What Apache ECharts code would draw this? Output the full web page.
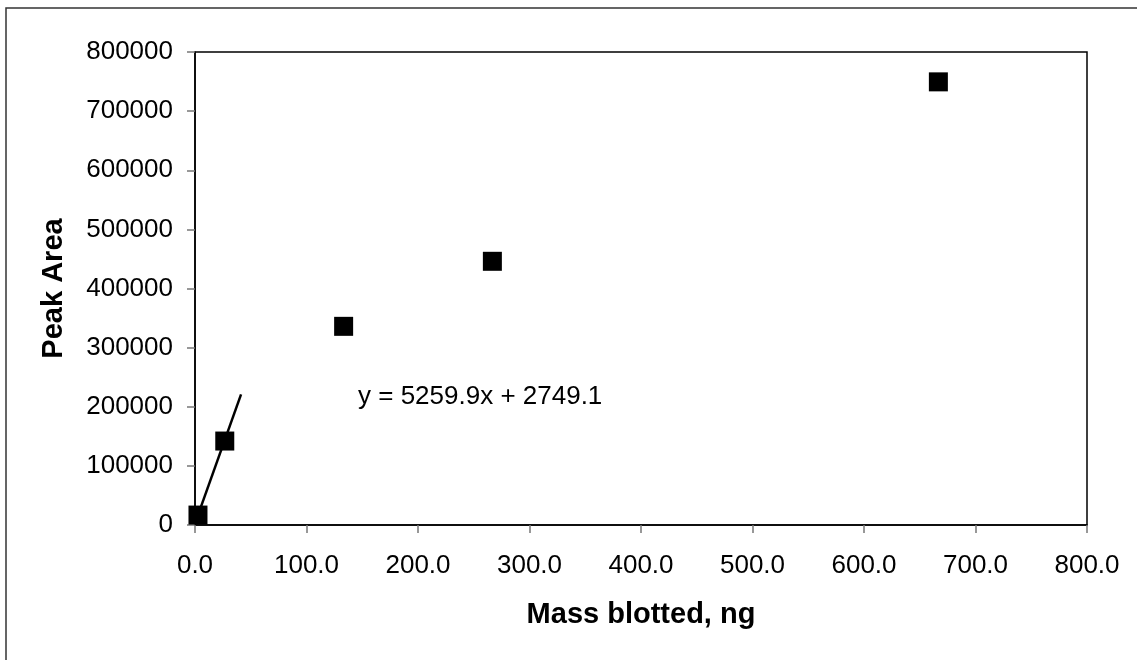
<!DOCTYPE html>
<html>
<head>
<meta charset="utf-8">
<script src="https://cdn.jsdelivr.net/npm/echarts@6/dist/echarts.min.js"></script>
<style>html,body{margin:0;padding:0;background:#fff;}#c{width:1137px;height:660px;}</style>
</head>
<body>
<div id="c"></div>
<script>
var massX = [2.67, 26.7, 133.3, 266.7, 666.7];
var peakArea = [16800, 142000, 336000, 446000, 749500];
var trendX = [2.67, 41.3];
var trendY = [16800, 221000];
var equationText = 'y = 5259.9x + 2749.1';
var equationPos = [146, 216600];
var xTicks = {min: 0, max: 800, interval: 100};
var yTicks = {min: 0, max: 800000, interval: 100000};

var chart = echarts.init(document.getElementById('c'), null, {renderer: 'canvas'});
var font = 'Arial, "Liberation Sans", sans-serif';
chart.setOption({
  animation: false,
  backgroundColor: '#fff',
  grid: {left: 195, right: 50, top: 52, bottom: 135, show: true, borderColor: '#000', borderWidth: 1.5, backgroundColor: 'transparent'},
  xAxis: {
    type: 'value', min: xTicks.min, max: xTicks.max, interval: xTicks.interval,
    name: 'Mass blotted, ng', nameLocation: 'middle', nameGap: 75,
    nameTextStyle: {fontFamily: font, fontSize: 29, fontWeight: 'bold', color: '#000'},
    axisLine: {show: true, lineStyle: {color: '#000', width: 1.5}},
    axisTick: {show: true, inside: false, length: 8, lineStyle: {color: '#777', width: 1.5}},
    axisLabel: {fontFamily: font, fontSize: 26, color: '#000', margin: 28, formatter: function(v){return v.toFixed(1);}},
    splitLine: {show: false}
  },
  yAxis: {
    type: 'value', min: yTicks.min, max: yTicks.max, interval: yTicks.interval,
    name: 'Peak Area', nameLocation: 'middle', nameGap: 127,
    nameTextStyle: {fontFamily: font, fontSize: 29, fontWeight: 'bold', color: '#000'},
    axisLine: {show: true, lineStyle: {color: '#000', width: 1.5}},
    axisTick: {show: true, inside: false, length: 8, lineStyle: {color: '#777', width: 1.5}},
    axisLabel: {fontFamily: font, fontSize: 26, color: '#000', margin: 22, formatter: function(v){return String(v);}},
    splitLine: {show: false}
  },
  series: [
    {
      type: 'line', data: trendX.map(function(x, i){return [x, trendY[i]];}),
      symbol: 'none', lineStyle: {color: '#000', width: 2.5}, z: 2
    },
    {
      type: 'scatter', data: massX.map(function(x, i){return [x, peakArea[i]];}),
      symbol: 'rect', symbolSize: 19, itemStyle: {color: '#000', opacity: 1}, z: 3
    }
  ]
});
var p = chart.convertToPixel({gridIndex: 0}, equationPos);
chart.setOption({
  graphic: [
    {type: 'rect', shape: {x: 6, y: 8, width: 1300, height: 800}, style: {fill: 'none', stroke: '#333', lineWidth: 1.5}, silent: true, z: 0},
    {type: 'text', x: 358, y: p[1], style: {text: equationText, font: '26px ' + font, fill: '#000', textVerticalAlign: 'middle', textAlign: 'left'}, z: 10}
  ]
});
</script>
</body>
</html>
